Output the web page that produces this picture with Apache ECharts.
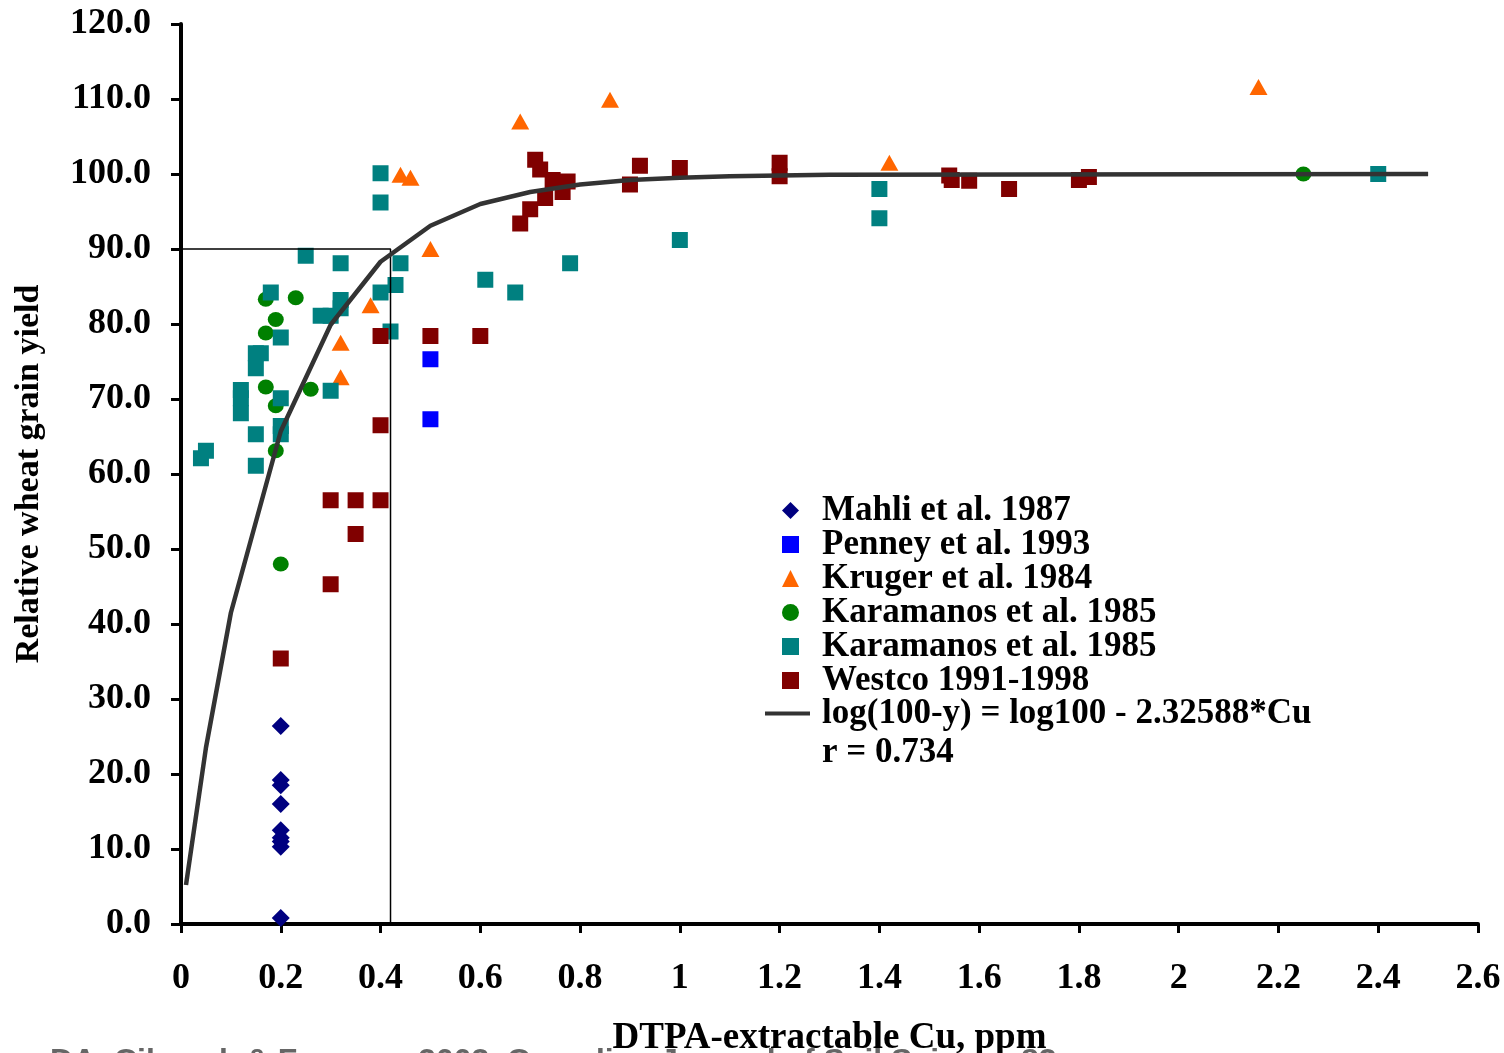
<!DOCTYPE html>
<html>
<head>
<meta charset="utf-8">
<script src="https://cdn.jsdelivr.net/npm/echarts@6/dist/echarts.min.js"></script>
<style>
  html, body { margin: 0; padding: 0; background: #ffffff; }
  #chart { width: 1504px; height: 1053px; }
</style>
</head>
<body>
<div id="chart"></div>
<script>
const FONT = '"Liberation Serif", "Times New Roman", serif';

// Mahli et al. 1987
const mahliCu    = [0.2, 0.2, 0.2, 0.2, 0.2, 0.2, 0.2, 0.2, 0.2];
const mahliYield = [26.4, 19.2, 18.5, 16.0, 12.5, 11.5, 11.0, 10.3, 0.8];

// Penney et al. 1993
const penneyCu    = [0.5, 0.5];
const penneyYield = [75.3, 67.3];

// Kruger et al. 1984
const krugerCu    = [0.32, 0.32, 0.38, 0.44, 0.46, 0.5, 0.68, 0.86, 1.42, 2.16];
const krugerYield = [72.9, 77.5, 82.5, 99.9, 99.5, 90.0, 107.0, 109.9, 101.5, 111.6];

// Karamanos et al. 1985 (circles)
const karCircleCu    = [0.17, 0.17, 0.17, 0.19, 0.19, 0.19, 0.2, 0.23, 0.26, 2.25];
const karCircleYield = [83.3, 78.8, 71.6, 80.6, 69.1, 63.1, 48.0, 83.5, 71.3, 100.0];

// Karamanos et al. 1985 (squares)
const karSquareCu    = [0.04, 0.05, 0.12, 0.12, 0.12, 0.15, 0.16, 0.15, 0.15, 0.15,
                        0.18, 0.2, 0.2, 0.2, 0.2, 0.25, 0.28, 0.3, 0.3, 0.32,
                        0.32, 0.32, 0.4, 0.4, 0.4, 0.42, 0.43, 0.44, 0.61, 0.67,
                        0.78, 1.0, 1.4, 1.4, 2.4];
const karSquareYield = [62.1, 63.1, 71.2, 70.1, 68.1, 76.1, 76.1, 74.1, 65.3, 61.1,
                        84.2, 78.2, 70.1, 66.4, 65.3, 89.1, 81.1, 81.1, 71.1, 88.1,
                        83.2, 82.1, 100.1, 96.2, 84.2, 79.0, 85.2, 88.1, 85.9, 84.2,
                        88.1, 91.2, 98.0, 94.1, 100.0];

// Westco 1991-1998
const westcoCu    = [0.2, 0.3, 0.35, 0.4, 0.35, 0.3, 0.4, 0.4, 0.5, 0.6,
                     0.68, 0.7, 0.71, 0.72, 0.73, 0.745, 0.765, 0.775, 0.9, 0.92,
                     1.0, 1.2, 1.2, 1.54, 1.545, 1.58, 1.66, 1.8, 1.82];
const westcoYield = [35.4, 56.5, 56.5, 56.5, 52.0, 45.3, 66.5, 78.4, 78.4, 78.4,
                     93.4, 95.3, 101.9, 100.6, 96.8, 99.2, 97.6, 99.0, 98.6, 101.1,
                     100.8, 101.5, 99.7, 99.8, 99.2, 99.1, 98.0, 99.2, 99.6];

// Fitted response: log(100-y) = log100 - 2.32588*Cu
const fitCu    = [0.01, 0.05, 0.1, 0.2, 0.3, 0.4, 0.5, 0.6, 0.7, 0.8, 0.9, 1.0, 1.1, 1.2, 1.3, 2.5];
const fitYield = [5.2, 23.5, 41.5, 65.7, 79.9, 88.3, 93.1, 96.0, 97.6, 98.6, 99.2, 99.5, 99.7, 99.8, 99.9, 100.0];

// Critical-level box (90 % yield)
const boxCu    = [0, 0.42, 0.42];
const boxYield = [90, 90, 0];

const pairs = (xs, ys) => xs.map((x, i) => [x, ys[i]]);

const FIT_NAME = 'log(100-y) = log100 - 2.32588*Cu';

const chart = echarts.init(document.getElementById('chart'), null, { renderer: 'canvas' });

const axisText = {
  fontFamily: FONT, fontWeight: 'bold', fontSize: 36, color: '#000'
};
const legendText = {
  fontFamily: FONT, fontWeight: 'bold', fontSize: 35, color: '#000', lineHeight: 34
};

const option = {
  animation: false,
  backgroundColor: '#ffffff',
  grid: { left: 181, right: 26, top: 24, bottom: 129, containLabel: false, outerBoundsMode: 'none' },
  xAxis: {
    type: 'value', min: 0, max: 2.6, interval: 0.2,
    name: 'DTPA-extractable Cu, ppm',
    nameLocation: 'middle', nameGap: 96,
    nameTextStyle: { fontFamily: FONT, fontWeight: 'bold', fontSize: 37, color: '#000' },
    axisLine: { onZero: false, lineStyle: { color: '#000', width: 4 } },
    axisTick: { inside: false, length: 9, lineStyle: { color: '#000', width: 3 } },
    splitLine: { show: false },
    axisLabel: Object.assign({ margin: 37, formatter: v => String(Math.round(v * 10) / 10) }, axisText)
  },
  yAxis: {
    type: 'value', min: 0, max: 120, interval: 10,
    name: 'Relative wheat grain yield',
    nameLocation: 'middle', nameGap: 135,
    nameTextStyle: { fontFamily: FONT, fontWeight: 'bold', fontSize: 34, color: '#000' },
    axisLine: { onZero: false, lineStyle: { color: '#000', width: 4 } },
    axisTick: { inside: false, length: 10, lineStyle: { color: '#000', width: 3 } },
    splitLine: { show: false },
    axisLabel: Object.assign({ margin: 30, formatter: v => v.toFixed(1) }, axisText)
  },
  legend: [
    {
      orient: 'vertical', left: 777, top: 488,
      itemWidth: 17, itemHeight: 17, itemGap: -1,
      textStyle: Object.assign({ padding: [0, 0, 0, 18] }, legendText),
      data: ['Mahli et al. 1987', 'Penney et al. 1993', 'Kruger et al. 1984',
             'Karamanos et al. 1985', 'Karamanos et al. 1985 ', 'Westco 1991-1998'],
      selectedMode: false
    },
    {
      orient: 'vertical', left: 760, top: 691,
      itemWidth: 45, itemHeight: 4, itemGap: 0,
      textStyle: Object.assign({ padding: [0, 0, 0, 7] }, legendText),
      data: [{ name: FIT_NAME, icon: 'rect' }],
      selectedMode: false
    }
  ],
  graphic: [
    {
      type: 'text', left: 822, top: 735,
      style: { text: 'r = 0.734', font: 'bold 35px ' + FONT, fill: '#000' }
    },
    {
      type: 'text', left: 50, top: 1046,
      style: { text: 'DA. Cihacek & Franzen, 2003. Canadian Journal of Soil Science 83', font: 'bold 32px "Liberation Sans", Arial, sans-serif', fill: '#666' }
    }
  ],
  series: [
    {
      name: 'box', type: 'line', data: pairs(boxCu, boxYield),
      symbol: 'none', silent: true,
      lineStyle: { color: '#000', width: 1.5 }
    },
    {
      name: FIT_NAME, type: 'line', data: pairs(fitCu, fitYield),
      symbol: 'none', silent: true,
      itemStyle: { color: '#333333' },
      lineStyle: { color: '#333333', width: 4.5 }
    },
    {
      name: 'Mahli et al. 1987', type: 'scatter', data: pairs(mahliCu, mahliYield),
      symbol: 'diamond', symbolSize: [18, 18], itemStyle: { color: '#000080', opacity: 1 }
    },
    {
      name: 'Penney et al. 1993', type: 'scatter', data: pairs(penneyCu, penneyYield),
      symbol: 'rect', symbolSize: 16, itemStyle: { color: '#0000ff', opacity: 1 }
    },
    {
      name: 'Kruger et al. 1984', type: 'scatter', data: pairs(krugerCu, krugerYield),
      symbol: 'triangle', symbolSize: [18, 16], itemStyle: { color: '#ff6600', opacity: 1 }
    },
    {
      name: 'Karamanos et al. 1985', type: 'scatter', data: pairs(karCircleCu, karCircleYield),
      symbol: 'circle', symbolSize: [16, 15], itemStyle: { color: '#008000', opacity: 1 }
    },
    {
      name: 'Karamanos et al. 1985 ', type: 'scatter', data: pairs(karSquareCu, karSquareYield),
      symbol: 'rect', symbolSize: 16, itemStyle: { color: '#008080', opacity: 1 }
    },
    {
      name: 'Westco 1991-1998', type: 'scatter', data: pairs(westcoCu, westcoYield),
      symbol: 'rect', symbolSize: 16, itemStyle: { color: '#800000', opacity: 1 }
    }
  ]
};

chart.setOption(option);
</script>
</body>
</html>
